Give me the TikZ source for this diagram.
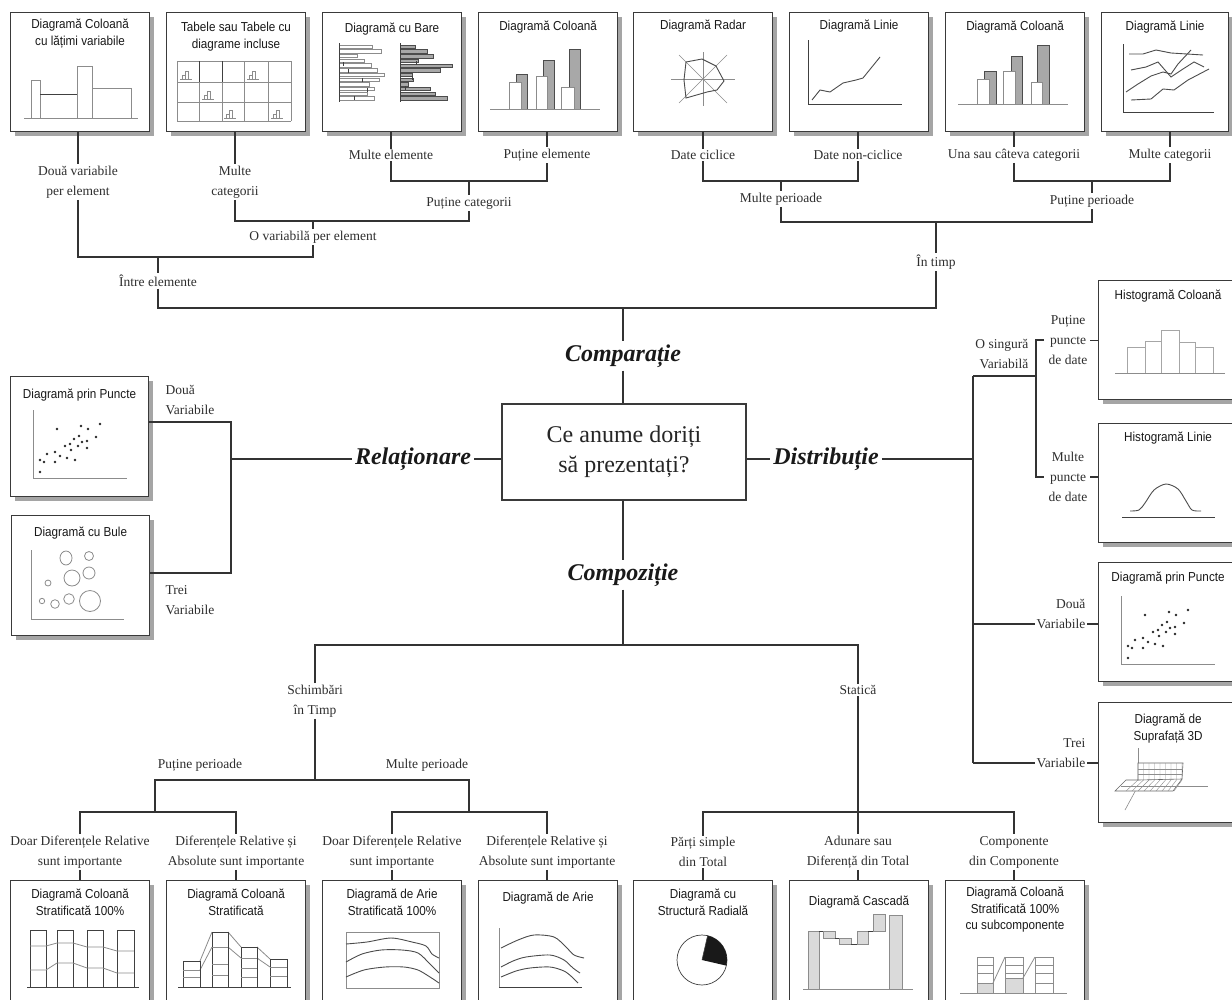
\documentclass[tikz,border=0pt]{standalone}
\usepackage{fontspec}
\setmainfont{Liberation Serif}
\newfontfamily\ttlfam[FakeStretch=0.9]{Liberation Sans}
\usetikzlibrary{shadows}
\definecolor{linec}{HTML}{333333}
\definecolor{boxc}{HTML}{3A3A3A}
\definecolor{chartc}{HTML}{8C8C8C}
\definecolor{shadowc}{HTML}{A5A5A5}
\definecolor{barg}{HTML}{A8A8A8}
\definecolor{lightg}{HTML}{DADADA}
\definecolor{txt}{HTML}{2E2E2E}
\tikzset{
 cbox/.style={draw=boxc, line width=1.1pt, fill=white, minimum width=139pt, minimum height=119pt, inner sep=0pt, anchor=north west, drop shadow={shadow xshift=4pt, shadow yshift=-4pt, fill=shadowc, opacity=1}},
 ttl/.style={font=\ttlfam\fontsize{13}{16.5}\selectfont, align=center, inner sep=0pt, anchor=north, text=black!90},
 lbl/.style={font=\fontsize{13.5}{20}\selectfont, align=center, inner sep=1.5pt, text=txt},
 big/.style={font=\fontsize{24}{28}\selectfont\bfseries\itshape, inner sep=3pt, text=black!90},
 con/.style={draw=linec, line width=1.1pt},
 ch/.style={draw=chartc, line width=0.8pt},
 chd/.style={draw=black!75, line width=0.8pt},
}
\newcommand\scatterdots{%
 \draw[ch] (23,34) -- (23,102) -- (117,102);
 \foreach \x/\y in {30/96,30/84,34/86,37/78,45/76,45/86,50/80,47/53,55/70,57/82,60/68,61/74,64/63,65/84,68/70,69/60,71/50,72/66,77/65,77/72,78/53,86/61,90/48}
   \fill[black!85] (\x,\y) circle[radius=1.4pt];}
\begin{document}
\begin{tikzpicture}[x=1pt,y=-1pt]
\fill[white] (0,0) rectangle (1232,999);
\useasboundingbox (0,0) rectangle (1232,999);

% ---------------- top row boxes
\node[cbox] (b1) at (10,12) {};
\node[cbox] (b2) at (166,12) {};
\node[cbox] (b3) at (322,12) {};
\node[cbox] (b4) at (478,12) {};
\node[cbox] (b5) at (633,12) {};
\node[cbox] (b6) at (789,12) {};
\node[cbox] (b7) at (945,12) {};
\node[cbox, minimum width=127pt] (b8) at (1101,12) {};
\node[ttl] at ([yshift=-7pt]b1.north) {Diagramă Coloană\\cu lățimi variabile};
\node[ttl] at ([yshift=-10pt]b2.north) {Tabele sau Tabele cu\\diagrame incluse};
\node[ttl] at ([yshift=-11pt]b3.north) {Diagramă cu Bare};
\node[ttl] at ([yshift=-9pt]b4.north) {Diagramă Coloană};
\node[ttl] at ([yshift=-8pt]b5.north) {Diagramă Radar};
\node[ttl] at ([yshift=-8pt]b6.north) {Diagramă Linie};
\node[ttl] at ([yshift=-9pt]b7.north) {Diagramă Coloană};
\node[ttl] at ([yshift=-9pt]b8.north) {Diagramă Linie};

% chart b1
\begin{scope}[shift={(b1.north west)}]
 \draw[ch] (21,106) rectangle (30,68);
 \draw[ch] (30,106) rectangle (67,82);
 \draw[ch] (67,106) rectangle (82,54);
 \draw[ch] (82,106) rectangle (121,76);
 \draw[chd, line width=1pt] (30,82) -- (67,82);
 \draw[ch] (14,106) -- (128,106);
\end{scope}
% chart b2
\begin{scope}[shift={(b2.north west)}]
 \foreach \x in {11,33,56,78,102,125} \draw[ch] (\x,49) -- (\x,109);
 \foreach \y in {49,70,90,109} \draw[ch] (11,\y) -- (125,\y);
 \draw[chd] (33,49) -- (33,70); \draw[chd] (56,49) -- (56,70);
 \foreach \x/\y in {14/67,81/67,36/87,58/106,105/106} {
   \draw[ch, line width=0.5pt] (\x,\y) -- ++(12,0);
   \draw[ch, line width=0.5pt] (\x+2,\y) rectangle ++(3,-4);
   \draw[ch, line width=0.5pt] (\x+5,\y) rectangle ++(3,-8);}
\end{scope}
% chart b3
\begin{scope}[shift={(b3.north west)}]
 \foreach \i/\l in {0/33,1/42,2/18,3/25,4/32,5/38,6/45,7/40,8/30,9/35,10/28,11/35}
   \draw[ch, fill=white] (17,33+\i*4.7) rectangle ++(\l,3.4);
 \draw[chd] (17,31) -- (17,90);
 \foreach \x/\y in {21/50,26/57,45/76,32/84,40/66}
   \draw[chd] (\x,\y) -- ++(0,4);
 \foreach \i/\l in {0/15,1/27,2/33,3/18,4/52,5/40,6/12,7/13,8/8,9/30,10/35,11/47}
   \draw[draw=black!70, line width=0.6pt, fill=barg] (78,33+\i*4.7) rectangle ++(\l,3.4);
 \draw[chd] (78,31) -- (78,90);
 \foreach \x/\y in {94/49,83/74,90/64}
   \draw[chd] (\x,\y) -- ++(0,4);
\end{scope}
% chart b4
\begin{scope}[shift={(b4.north west)}]
 \draw[draw=black!70, line width=0.7pt, fill=barg] (38,97) rectangle (49,62);
 \draw[ch, fill=white] (31,97) rectangle (43,70);
 \draw[draw=black!70, line width=0.7pt, fill=barg] (65,97) rectangle (76,48);
 \draw[ch, fill=white] (58,97) rectangle (69,64);
 \draw[draw=black!70, line width=0.7pt, fill=barg] (91,97) rectangle (102,37);
 \draw[ch, fill=white] (83,97) rectangle (96,75);
 \draw[ch] (12,97) -- (122,97);
\end{scope}
% chart b5 radar
\begin{scope}[shift={(b5.north west)}]
 \draw[ch, line width=0.6pt] (38,67) -- (102,67);
 \draw[ch, line width=0.6pt] (70,40) -- (70,94);
 \draw[ch, line width=0.6pt] (46,43) -- (94,91);
 \draw[ch, line width=0.6pt] (46,91) -- (94,43);
 \draw[draw=black!70, line width=0.9pt] (53,50) -- (69,47) -- (83,54) -- (91,69) -- (84,78) -- (74,80) -- (53,86) -- (51,68) -- cycle;
\end{scope}
% chart b6 line
\begin{scope}[shift={(b6.north west)}]
 \draw[chd, line width=0.6pt] (19,28) -- (19,92) -- (113,92);
 \draw[draw=black!70, line width=0.9pt] (23,88) -- (31,78) -- (41,80) -- (54,71) -- (67,68) -- (74,66) -- (91,45);
\end{scope}
% chart b7
\begin{scope}[shift={(b7.north west)}]
 \draw[draw=black!70, line width=0.7pt, fill=barg] (39,92) rectangle (51,59);
 \draw[ch, fill=white] (32,92) rectangle (44,67);
 \draw[draw=black!70, line width=0.7pt, fill=barg] (66,92) rectangle (77,44);
 \draw[ch, fill=white] (58,92) rectangle (70,59);
 \draw[draw=black!70, line width=0.7pt, fill=barg] (92,92) rectangle (104,33);
 \draw[ch, fill=white] (86,92) rectangle (97,70);
 \draw[ch] (13,92) -- (123,92);
\end{scope}
% chart b8 multi line
\begin{scope}[shift={(b8.north west)}]
 \draw[chd, line width=0.6pt] (22,32) -- (22,100) -- (113,100);
 \draw[draw=black!70, line width=0.9pt] (28,42) -- (42,42) -- (55,38) -- (70,41) -- (102,43);
 \draw[draw=black!70, line width=0.9pt] (30,58) -- (45,55) -- (57,50) -- (70,65) -- (82,57) -- (93,50) -- (103,55);
 \draw[draw=black!70, line width=0.9pt] (25,80) -- (37,72) -- (50,64) -- (62,60) -- (70,62) -- (77,52) -- (90,38);
 \draw[draw=black!70, line width=0.9pt] (30,88) -- (50,87) -- (62,77) -- (73,78) -- (87,68) -- (108,57);
\end{scope}

% ---------------- top tree labels
\node[lbl] (l1) at (78,182) {Două variabile\\per element};
\node[lbl] (l2) at (235,182) {Multe\\categorii};
\node[lbl] (l3) at (391,155) {Multe elemente};
\node[lbl] (l4) at (547,155) {Puține elemente};
\node[lbl] (l5) at (469,203) {Puține categorii};
\node[lbl] (l6) at (313,237) {O variabilă per element};
\node[lbl] (l7) at (158,281) {Între elemente};
\node[lbl] (l8) at (703,155) {Date ciclice};
\node[lbl] (l9) at (858,155) {Date non-ciclice};
\node[lbl] (l10) at (1014,155) {Una sau câteva categorii};
\node[lbl] (l11) at (1170,155) {Multe categorii};
\node[lbl] (l12) at (781,199) {Multe perioade};
\node[lbl] (l13) at (1092,201) {Puține perioade};
\node[lbl] (l14) at (936,262) {În timp};

\coordinate (j1) at (313,257);
\coordinate (j2) at (469,181);
\coordinate (j3) at (313,221);
\coordinate (j4) at (623,308);
\coordinate (j5) at (781,181);
\coordinate (j6) at (1092,181);
\coordinate (j7) at (936,222);

\draw[con] (l1.north |- b1.south) -- (l1.north);
\draw[con] (l2.north |- b2.south) -- (l2.north);
\draw[con] (l3.north |- b3.south) -- (l3.north);
\draw[con] (l4.north |- b4.south) -- (l4.north);
\draw[con] (l8.north |- b5.south) -- (l8.north);
\draw[con] (l9.north |- b6.south) -- (l9.north);
\draw[con] (l10.north |- b7.south) -- (l10.north);
\draw[con] (l11.north |- b8.south) -- (l11.north);
\draw[con] (l3.south) |- (j2) -| (l4.south);
\draw[con] (j2) -- (l5.north);
\draw[con] (l2.south) |- (j3) -| (l5.south);
\draw[con] (j3) -- (l6.north);
\draw[con] (l1.south) |- (j1) -- (l6.south);
\draw[con] (l7.north |- j1) -- (l7.north);
\draw[con] (l8.south) |- (j5) -| (l9.south);
\draw[con] (j5) -- (l12.north);
\draw[con] (l10.south) |- (j6) -| (l11.south);
\draw[con] (j6) -- (l13.north);
\draw[con] (l12.south) |- (j7) -| (l13.south);
\draw[con] (j7) -- (l14.north);
\draw[con] (l7.south) |- (j4) -| (l14.south);

% ---------------- centre
\node[draw=boxc, line width=1.1pt, fill=white, minimum width=244pt, minimum height=96pt, align=center, font=\fontsize{24}{30}\selectfont, text=black!85] (q) at (624,452) {Ce anume doriți\\să prezentați?};
\node[big] (cmp) at (623,356) {Comparație};
\node[big] (rel) at (413,459) {Relaționare};
\node[big] (dst) at (826,459) {Distribuție};
\node[big] (cpz) at (623,575) {Compoziție};
\draw[con] (j4) -- (cmp.north);
\draw[con] (cmp.south) -- (cmp.south |- q.north);
\draw[con] (rel.east) -- (rel.east -| q.west);
\draw[con] (dst.west -| q.east) -- (dst.west);
\draw[con] (cpz.north |- q.south) -- (cpz.north);

% ---------------- relationship (left)
\node[cbox, minimum width=138pt, minimum height=120pt] (lp) at (10,376) {};
\node[cbox, minimum width=138pt, minimum height=120pt] (lb) at (11,515) {};
\node[ttl] at ([yshift=-13pt]lp.north) {Diagramă prin Puncte};
\node[ttl] at ([yshift=-12pt]lb.north) {Diagramă cu Bule};
\begin{scope}[shift={(lp.north west)}]
 \scatterdots
\end{scope}
\begin{scope}[shift={(lb.north west)}]
 \draw[ch] (20,35) -- (20,104) -- (113,104);
 \draw[ch] (55,43) ellipse[x radius=6pt, y radius=7pt];
 \draw[ch] (78,41) circle[radius=4.5pt];
 \draw[ch] (61,63) circle[radius=8pt];
 \draw[ch] (78,58) circle[radius=6pt];
 \draw[ch] (37,68) circle[radius=3pt];
 \draw[ch] (31,86) circle[radius=2.7pt];
 \draw[ch] (44,89) circle[radius=4.3pt];
 \draw[ch] (58,84) circle[radius=5.3pt];
 \draw[ch] (79,86) circle[radius=10.5pt];
\end{scope}
\node[lbl, align=left, anchor=west] (l15) at (164,400) {Două\\Variabile};
\node[lbl, align=left, anchor=west] (l16) at (164,600) {Trei\\Variabile};
\coordinate (j8) at (231,459);
\coordinate (j9) at (231,422);
\coordinate (j10) at (231,573);
\draw[con] (lp.east |- j9) -- (j9) -- (j10) -- (lb.east |- j10);
\draw[con] (j8) -- (rel.west);

% ---------------- distribution (right)
\node[cbox] (hc) at (1098,280) {};
\node[cbox] (hl) at (1098,423) {};
\node[cbox] (ps) at (1098,562) {};
\node[cbox, minimum height=120pt] (s3) at (1098,702) {};
\node[ttl] at ([yshift=-10pt]hc.north) {Histogramă Coloană};
\node[ttl] at ([yshift=-9pt]hl.north) {Histogramă Linie};
\node[ttl] at ([yshift=-10pt]ps.north) {Diagramă prin Puncte};
\node[ttl] at ([yshift=-12pt]s3.north) {Diagramă de\\Suprafață 3D};
\begin{scope}[shift={(hc.north west)}]
 \draw[ch, draw=black!35] (29,93) rectangle (47,67);
 \draw[ch, draw=black!35] (47,93) rectangle (63,61);
 \draw[ch, draw=black!35] (63,93) rectangle (81,50);
 \draw[ch, draw=black!35] (81,93) rectangle (97,62);
 \draw[ch, draw=black!35] (97,93) rectangle (115,67);
 \draw[ch] (17,93) -- (127,93);
\end{scope}
\begin{scope}[shift={(hl.north west)}]
 \draw[chd, line width=0.9pt] (24,94) -- (117,94);
 \draw[draw=black!70, line width=0.9pt] plot[smooth] coordinates {(32,88) (41,87) (47,80) (56,67) (68,61) (80,66) (88,78) (94,87) (103,88)};
\end{scope}
\begin{scope}[shift={(ps.north west)}]
 \scatterdots
\end{scope}
\begin{scope}[shift={(s3.north west)}]
 \draw[ch, line width=0.6pt] (40,46) -- (40,84) -- (110,84);
 \draw[ch, line width=0.6pt] (40,84) -- (27,108);
 \draw[draw=black!60, line width=0.6pt, fill=white] (40,61) -- (85,61) -- (84,77) -- (75,89) -- (17,89) -- (28,78) -- (40,78) -- cycle;
 \foreach \k in {0,...,8} \draw[ch, line width=0.4pt] (40+\k*5.5,61) -- (40+\k*5.5,78) -- (28+\k*6,89);
 \draw[ch, line width=0.4pt] (40,67) -- (85,67);
 \draw[ch, line width=0.4pt] (40,72) -- (84,72);
 \draw[ch, line width=0.4pt] (23,84) -- (80,84);
 \draw[draw=black!60, line width=0.6pt] (40,78) -- (84,77);
\end{scope}
\coordinate (j11) at (973,459);
\coordinate (j12) at (973,376);
\coordinate (j13) at (1036,376);
\coordinate (j14) at (1036,340);
\coordinate (j15) at (1036,477);
\coordinate (j16) at (973,624);
\coordinate (j17) at (973,763);
\node[lbl, align=right, anchor=east] (l17) at (1030,354) {O singură\\Variabilă};
\node[lbl] (l18) at (1068,340) {Puține\\puncte\\de date};
\node[lbl] (l19) at (1068,477) {Multe\\puncte\\de date};
\node[lbl, align=right, anchor=east] (l20) at (1087,614) {Două\\Variabile};
\node[lbl, align=right, anchor=east] (l21) at (1087,753) {Trei\\Variabile};
\draw[con] (dst.east) -- (j11);
\draw[con] (j12) -- (j17);
\draw[con] (j12) -- (j13);
\draw[con] ([xshift=8pt]j14) -- (j14) -- (j15) -- ([xshift=8pt]j15);
\draw[con] (hc.west) -- ++(-8,0);
\draw[con] (hl.west |- j15) -- ++(-8,0);
\draw[con] (j16) -- (l20.west |- j16);
\draw[con] (l20.east |- j16) -- (ps.west |- j16);
\draw[con] (j17) -- (l21.west |- j17);
\draw[con] (l21.east |- j17) -- (s3.west |- j17);

% ---------------- composition (bottom)
\coordinate (k1) at (623,645);
\coordinate (k2) at (315,780);
\coordinate (k3) at (155,812);
\coordinate (k4) at (469,812);
\coordinate (k5) at (858,812);
\node[lbl] (n1) at (315,701) {Schimbări\\în Timp};
\node[lbl] (n2) at (858,690) {Statică};
\node[lbl] (n3) at (200,765) {Puține perioade};
\node[lbl] (n4) at (427,765) {Multe perioade};
\node[lbl] (m1) at (80,852) {Doar Diferențele Relative\\sunt importante};
\node[lbl] (m2) at (236,852) {Diferențele Relative și\\Absolute sunt importante};
\node[lbl] (m3) at (392,852) {Doar Diferențele Relative\\sunt importante};
\node[lbl] (m4) at (547,852) {Diferențele Relative și\\Absolute sunt importante};
\node[lbl] (m5) at (703,852) {Părți simple\\din Total};
\node[lbl] (m6) at (858,852) {Adunare sau\\Diferență din Total};
\node[lbl] (m7) at (1014,852) {Componente\\din Componente};
\draw[con] (cpz.south) -- (k1);
\draw[con] (n1.north) |- (k1) -| (n2.north);
\draw[con] (n1.south) -- (k2);
\draw[con] (k3) |- (k2) -| (k4);
\draw[con] (m1.north) |- (k3) -| (m2.north);
\draw[con] (m3.north) |- (k4) -| (m4.north);
\draw[con] (n2.south) -- (k5);
\draw[con] (m5.north) |- (k5) -| (m7.north);
\draw[con] (k5) -- (m6.north);

\node[cbox, minimum height=125pt] (c1) at (10,880) {};
\node[cbox, minimum height=125pt] (c2) at (166,880) {};
\node[cbox, minimum height=125pt] (c3) at (322,880) {};
\node[cbox, minimum height=125pt] (c4) at (478,880) {};
\node[cbox, minimum height=125pt] (c5) at (633,880) {};
\node[cbox, minimum height=125pt] (c6) at (789,880) {};
\node[cbox, minimum height=125pt] (c7) at (945,880) {};
\foreach \a/\b in {m1/c1,m2/c2,m3/c3,m4/c4,m5/c5,m6/c6,m7/c7}
  \draw[con] (\a.south) -- (\a.south |- \b.north);
\node[ttl] at ([yshift=-9pt]c1.north) {Diagramă Coloană\\Stratificată 100\%};
\node[ttl] at ([yshift=-9pt]c2.north) {Diagramă Coloană\\Stratificată};
\node[ttl] at ([yshift=-9pt]c3.north) {Diagramă de Arie\\Stratificată 100\%};
\node[ttl] at ([yshift=-12pt]c4.north) {Diagramă de Arie};
\node[ttl] at ([yshift=-9pt]c5.north) {Diagramă cu\\Structură Radială};
\node[ttl] at ([yshift=-16pt]c6.north) {Diagramă Cascadă};
\node[ttl] at ([yshift=-7pt]c7.north) {Diagramă Coloană\\Stratificată 100\%\\cu subcomponente};
\begin{scope}[shift={(c1.north west)}]
 \foreach \a/\b in {20/36,47/63,77/93,107/124} \draw[chd, line width=0.7pt] (\a,107) rectangle (\b,50);
 \draw[ch] (20,66) -- (36,66) -- (47,63) -- (63,63) -- (77,67) -- (93,67) -- (107,71) -- (124,71);
 \draw[ch] (20,90) -- (36,90) -- (47,83) -- (63,83) -- (77,88) -- (93,88) -- (107,93) -- (124,93);
 \draw[chd, line width=0.9pt] (17,107) -- (129,107);
\end{scope}
\begin{scope}[shift={(c2.north west)}]
 \draw[ch] (34,81) -- (46,52); \draw[ch] (62,52) -- (75,67); \draw[ch] (91,67) -- (104,79);
 \draw[ch] (34,90) -- (46,67); \draw[ch] (62,67) -- (75,78); \draw[ch] (91,78) -- (104,87);
 \draw[chd, line width=0.7pt] (17,107) rectangle (34,81);
 \draw[chd, line width=0.7pt] (46,107) rectangle (62,52);
 \draw[chd, line width=0.7pt] (75,107) rectangle (91,67);
 \draw[chd, line width=0.7pt] (104,107) rectangle (121,79);
 \foreach \a/\b/\y in {17/34/90,17/34/97,46/62/67,46/62/84,46/62/95,75/91/78,75/91/88,75/91/97,104/121/87,104/121/96}
   \draw[ch] (\a,\y) -- (\b,\y);
 \draw[chd, line width=0.9pt] (12,107) -- (125,107);
\end{scope}
\begin{scope}[shift={(c3.north west)}]
 \draw[ch] (24,52) rectangle (117,108);
 \draw[draw=black!70, line width=0.9pt] plot[smooth] coordinates {(24,64) (45,62) (69,58) (90,62) (104,66) (110,74) (117,78)};
 \draw[draw=black!70, line width=0.9pt] plot[smooth] coordinates {(24,82) (40,74) (59,70) (80,70) (96,73) (108,84) (117,93)};
 \draw[draw=black!70, line width=0.9pt] plot[smooth] coordinates {(24,97) (42,90) (63,87) (82,87) (96,90) (108,97) (117,103)};
\end{scope}
\begin{scope}[shift={(c4.north west)}]
 \draw[ch, line width=0.6pt] (21,48) -- (21,107);
 \draw[chd, line width=1pt] (21,107) -- (104,107);
 \draw[draw=black!70, line width=0.9pt] plot[smooth] coordinates {(23,68) (40,60) (56,55) (76,57) (88,67) (96,75) (106,78)};
 \draw[draw=black!70, line width=0.9pt] plot[smooth] coordinates {(23,87) (35,81) (48,77) (72,75) (86,80) (95,88) (102,93)};
 \draw[draw=black!70, line width=0.9pt] plot[smooth] coordinates {(23,97) (38,91) (52,88) (72,87) (86,91) (94,97) (100,103)};
\end{scope}
\begin{scope}[shift={(c5.north west)}]
 \coordinate (pc) at (69,80);
 \draw[draw=black!75, line width=0.7pt] (pc) circle[radius=25pt];
 \fill[black!90] (pc) -- ++(77:25pt) arc[start angle=77, end angle=-13, radius=25pt] -- cycle;
 \draw[draw=black!75, line width=0.6pt] (pc) -- ++(77:25pt);
\end{scope}
\begin{scope}[shift={(c6.north west)}]
 \draw[ch, fill=lightg] (19,109) rectangle (30,51);
 \draw[ch, fill=lightg] (34,51) rectangle (46,58);
 \draw[ch, fill=lightg] (50,58) rectangle (62,64);
 \draw[ch, fill=lightg] (68,51) rectangle (79,64);
 \draw[ch, fill=lightg] (84,34) rectangle (96,51);
 \draw[ch, fill=lightg] (100,35) rectangle (113,109);
 \draw[chd] (30,51) -- (34,51); \draw[chd] (46,58) -- (50,58);
 \draw[chd] (62,64) -- (68,64); \draw[chd] (79,51) -- (84,51);
 \draw[ch] (14,109) -- (124,109);
\end{scope}
\begin{scope}[shift={(c7.north west)}]
 \fill[lightg] (32,103) rectangle (48,113);
 \fill[lightg] (60,98) rectangle (78,113);
 \draw[ch] (48,103) -- (60,77); \draw[ch] (78,98) -- (90,77);
 \foreach \a/\b in {32/48,60/78,90/108} \draw[ch] (\a,113) rectangle (\b,77);
 \foreach \a/\b/\y in {32/48/85,32/48/93,32/48/103,60/78/85,60/78/93,60/78/98,90/108/85,90/108/93,90/108/103}
   \draw[ch] (\a,\y) -- (\b,\y);
 \draw[ch] (15,113) -- (122,113);
\end{scope}
\end{tikzpicture}
\end{document}
